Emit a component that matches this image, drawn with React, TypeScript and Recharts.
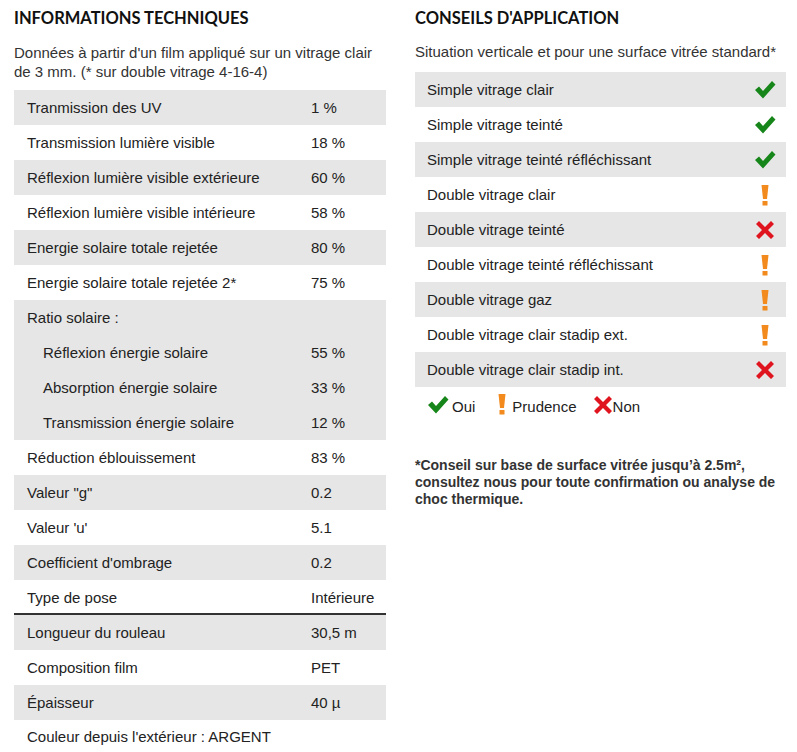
import React from 'react';
import { Surface } from 'recharts';

type Row = { label: string; value?: string; indent?: boolean; gray: boolean };

const techRows: Row[] = [
  { label: 'Tranmission des UV', value: '1 %', gray: true },
  { label: 'Transmission lumière visible', value: '18 %', gray: false },
  { label: 'Réflexion lumière visible extérieure', value: '60 %', gray: true },
  { label: 'Réflexion lumière visible intérieure', value: '58 %', gray: false },
  { label: 'Energie solaire totale rejetée', value: '80 %', gray: true },
  { label: 'Energie solaire totale rejetée 2*', value: '75 %', gray: false },
  { label: 'Ratio solaire :', gray: true },
  { label: 'Réflexion énergie solaire', value: '55 %', indent: true, gray: true },
  { label: 'Absorption énergie solaire', value: '33 %', indent: true, gray: true },
  { label: 'Transmission énergie solaire', value: '12 %', indent: true, gray: true },
  { label: 'Réduction éblouissement', value: '83 %', gray: false },
  { label: 'Valeur "g"', value: '0.2', gray: true },
  { label: "Valeur 'u'", value: '5.1', gray: false },
  { label: "Coefficient d'ombrage", value: '0.2', gray: true },
  { label: 'Type de pose', value: 'Intérieure', gray: false },
];

const rollRows: Row[] = [
  { label: 'Longueur du rouleau', value: '30,5 m', gray: true },
  { label: 'Composition film', value: 'PET', gray: false },
  { label: 'Épaisseur', value: '40 µ', gray: true },
];

type Advice = 'oui' | 'prudence' | 'non';

const glazingTypes = [
  'Simple vitrage clair',
  'Simple vitrage teinté',
  'Simple vitrage teinté réfléchissant',
  'Double vitrage clair',
  'Double vitrage teinté',
  'Double vitrage teinté réfléchissant',
  'Double vitrage gaz',
  'Double vitrage clair stadip ext.',
  'Double vitrage clair stadip int.',
];
const glazingAdvice: Advice[] = [
  'oui', 'oui', 'oui', 'prudence', 'non', 'prudence', 'prudence', 'prudence', 'non',
];

const GRAY = '#e6e6e6';
const TEXT = '#222';
const ROW_H = 35;

function Icon({ kind }: { kind: Advice }) {
  if (kind === 'oui') {
    return (
      <Surface width={22} height={20} viewBox={{ x: 0, y: 0, width: 22, height: 20 }}>
        <path d="M1 10 L5 6.5 L9 11 L18 1 L21.5 4.5 L9 18.5 Z" fill="#17861a" />
      </Surface>
    );
  }
  if (kind === 'prudence') {
    return (
      <Surface width={10} height={22} viewBox={{ x: 0, y: 0, width: 10, height: 22 }}>
        <path d="M1.5 1 L8.5 1 L7 15 L3 15 Z" fill="#f28a1e" />
        <rect x={2.5} y={17} width={5} height={4.5} fill="#f28a1e" />
      </Surface>
    );
  }
  return (
    <Surface width={20} height={20} viewBox={{ x: 0, y: 0, width: 20, height: 20 }}>
      <path
        d="M1 4 L4 1 L10 7 L16 1 L19 4 L13 10 L19 16 L16 19 L10 13 L4 19 L1 16 L7 10 Z"
        fill="#e0141e"
      />
    </Surface>
  );
}

function TechRow({ row, top }: { row: Row; top: number }) {
  return (
    <div
      style={{
        position: 'absolute',
        left: 14,
        top,
        width: 372,
        height: ROW_H,
        background: row.gray ? GRAY : '#fff',
      }}
    >
      <span style={{ position: 'absolute', left: row.indent ? 29 : 13, top: 9 }}>{row.label}</span>
      {row.value && <span style={{ position: 'absolute', left: 297, top: 9 }}>{row.value}</span>}
    </div>
  );
}

export default function App() {
  const body = "'Liberation Sans', Arial, sans-serif";
  const heading = "Lato, 'Open Sans', sans-serif";
  return (
    <div
      style={{
        position: 'absolute',
        left: 0,
        top: 0,
        width: 797,
        height: 752,
        background: '#fff',
        fontFamily: body,
        fontSize: 15,
        lineHeight: '17px',
        color: TEXT,
      }}
    >
      <div style={{ position: 'absolute', left: 14, top: 10, fontFamily: heading, fontWeight: 700, fontSize: 16.5, color: '#111' }}>
        INFORMATIONS TECHNIQUES
      </div>
      <div style={{ position: 'absolute', left: 14, top: 43, width: 372, lineHeight: '19px', color: '#333' }}>
        Données à partir d'un film appliqué sur un vitrage clair de 3 mm. (* sur double vitrage 4-16-4)
      </div>

      {techRows.map((r, i) => (
        <TechRow key={r.label} row={r} top={90 + i * ROW_H} />
      ))}
      <div style={{ position: 'absolute', left: 14, top: 613, width: 372, height: 2, background: '#333' }} />
      {rollRows.map((r, i) => (
        <TechRow key={r.label} row={r} top={615 + i * ROW_H} />
      ))}
      <div style={{ position: 'absolute', left: 27, top: 728 }}>Couleur depuis l'extérieur : ARGENT</div>

      <div style={{ position: 'absolute', left: 415, top: 10, fontFamily: heading, fontWeight: 700, fontSize: 16.5, color: '#111' }}>
        CONSEILS D'APPLICATION
      </div>
      <div style={{ position: 'absolute', left: 415, top: 43, color: '#333' }}>
        Situation verticale et pour une surface vitrée standard*
      </div>

      {glazingTypes.map((g, i) => (
        <div
          key={g}
          style={{
            position: 'absolute',
            left: 415,
            top: 72 + i * ROW_H,
            width: 371,
            height: ROW_H,
            background: i % 2 === 0 ? GRAY : '#fff',
          }}
        >
          <span style={{ position: 'absolute', left: 12, top: 9 }}>{g}</span>
          <div
            style={{
              position: 'absolute',
              right: 10,
              top: 0,
              width: 22,
              height: ROW_H,
              display: 'flex',
              alignItems: 'center',
              justifyContent: 'center',
            }}
          >
            <Icon kind={glazingAdvice[i]} />
          </div>
        </div>
      ))}

      <div style={{ position: 'absolute', left: 427, top: 391, display: 'flex', alignItems: 'flex-end', height: 24 }}>
        <Icon kind="oui" />
        <span style={{ marginLeft: 3, marginRight: 22 }}>Oui</span>
        <Icon kind="prudence" />
        <span style={{ marginLeft: 5, marginRight: 16 }}>Prudence</span>
        <Icon kind="non" />
        <span>Non</span>
      </div>

      <div
        style={{
          position: 'absolute',
          left: 415,
          top: 457,
          width: 372,
          fontSize: 14,
          fontWeight: 700,
          lineHeight: '17px',
          color: '#333',
        }}
      >
        *Conseil sur base de surface vitrée jusqu’à 2.5m², consultez nous pour toute confirmation ou analyse de choc thermique.
      </div>
    </div>
  );
}
